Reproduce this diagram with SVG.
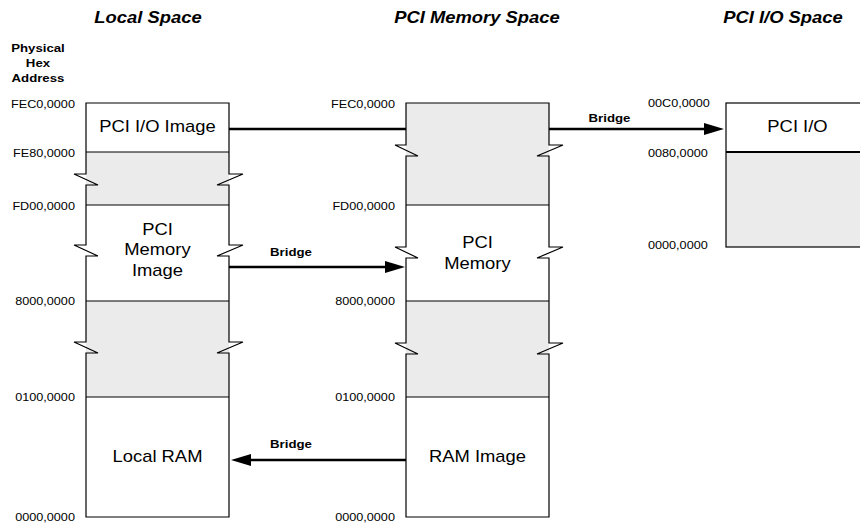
<svg xmlns="http://www.w3.org/2000/svg" width="860" height="527" viewBox="0 0 860 527">
  <style>
    text { font-family: "Liberation Sans", Arial, sans-serif; fill: #000; transform-box: fill-box; }
    .mid { text-anchor: middle; transform-origin: center; transform: scale(1.15, 1); }
    .end { text-anchor: end; transform-origin: right; transform: scale(1.15, 1); }
    .start { text-anchor: start; transform-origin: left; transform: scale(1.15, 1); }
    .head { font-size: 16px; font-weight: bold; font-style: italic; }
    .addr { font-size: 11px; }
    .ph { font-size: 11.5px; font-weight: bold; }
    .lbl { font-size: 16px; }
    .br { font-size: 11.5px; font-weight: bold; }
    .gray { fill: #ebebeb; stroke: none; }
    .edge { fill: none; stroke: #000; stroke-width: 1.2; stroke-linejoin: miter; }
    .div { stroke: #000; stroke-width: 1.2; }
    .conn { stroke: #000; stroke-width: 2.5; fill: none; }
  </style>
  <defs>
    <marker id="arrow" markerUnits="userSpaceOnUse" markerWidth="20" markerHeight="12" refX="12" refY="6" orient="auto">
      <path d="M0,0 L20,6 L0,12 Z" fill="#000"/>
    </marker>
  </defs>

  <rect width="860" height="527" fill="#fff"/>

  <!-- column headings -->
  <text class="head mid" x="148" y="23">Local Space</text>
  <text class="head mid" x="477" y="23">PCI Memory Space</text>
  <text class="head mid" x="783" y="23">PCI I/O Space</text>

  <text class="ph mid" x="38" y="52">Physical</text>
  <text class="ph mid" x="38" y="67">Hex</text>
  <text class="ph mid" x="38" y="82">Address</text>

  <!-- Local space column -->
  <g id="local-space">
    <rect class="gray" x="86" y="152" width="143" height="53"/>
    <rect class="gray" x="86" y="301" width="143" height="96"/>
    <path class="edge" d="M86,103 H229
      V174 H243 L217,185 H229
      V245 H243 L217,256 H229
      V342 H243 L217,353 H229
      V517 H86
      V353 H98 L74,342 H86
      V256 H98 L74,245 H86
      V185 H98 L74,174 H86 Z"/>
    <line class="div" x1="86" y1="152" x2="229" y2="152"/>
    <line class="div" x1="86" y1="205" x2="229" y2="205"/>
    <line class="div" x1="86" y1="301" x2="229" y2="301"/>
    <line class="div" x1="86" y1="397" x2="229" y2="397"/>
    <text class="lbl mid" x="157.5" y="132">PCI I/O Image</text>
    <text class="lbl mid" x="157.5" y="235">PCI</text>
    <text class="lbl mid" x="157.5" y="255">Memory</text>
    <text class="lbl mid" x="157.5" y="276">Image</text>
    <text class="lbl mid" x="157.5" y="462">Local RAM</text>
    <text class="addr end" x="75" y="108">FEC0,0000</text>
    <text class="addr end" x="75" y="157">FE80,0000</text>
    <text class="addr end" x="75" y="210">FD00,0000</text>
    <text class="addr end" x="75" y="305">8000,0000</text>
    <text class="addr end" x="75" y="401">0100,0000</text>
    <text class="addr end" x="75" y="521">0000,0000</text>
  </g>

  <!-- PCI memory space column -->
  <g id="pci-memory-space">
    <rect class="gray" x="406" y="103" width="143" height="102"/>
    <rect class="gray" x="406" y="301" width="143" height="96"/>
    <path class="edge" d="M406,103 H549
      V145 H563 L537,156 H549
      V247 H563 L537,258 H549
      V343 H563 L537,354 H549
      V517 H406
      V354 H418 L395,343 H406
      V258 H418 L395,247 H406
      V156 H418 L395,145 H406 Z"/>
    <line class="div" x1="406" y1="205" x2="549" y2="205"/>
    <line class="div" x1="406" y1="301" x2="549" y2="301"/>
    <line class="div" x1="406" y1="397" x2="549" y2="397"/>
    <text class="lbl mid" x="477.5" y="248">PCI</text>
    <text class="lbl mid" x="477.5" y="269">Memory</text>
    <text class="lbl mid" x="477.5" y="462">RAM Image</text>
    <text class="addr end" x="395" y="108">FEC0,0000</text>
    <text class="addr end" x="395" y="210">FD00,0000</text>
    <text class="addr end" x="395" y="305">8000,0000</text>
    <text class="addr end" x="395" y="401">0100,0000</text>
    <text class="addr end" x="395" y="521">0000,0000</text>
  </g>

  <!-- PCI I/O space column -->
  <g id="pci-io-space">
    <rect class="gray" x="726" y="152" width="143" height="95"/>
    <rect class="edge" x="726" y="103" width="143" height="144"/>
    <line stroke="#000" stroke-width="2" x1="726" y1="152" x2="869" y2="152"/>
    <text class="lbl mid" x="797.5" y="132">PCI I/O</text>
    <text class="addr start" x="648" y="107">00C0,0000</text>
    <text class="addr start" x="648" y="157">0080,0000</text>
    <text class="addr start" x="648" y="249">0000,0000</text>
  </g>

  <!-- bridge connectors -->
  <g id="connectors">
    <line class="conn" x1="229" y1="129" x2="406" y2="129"/>
    <line class="conn" x1="549" y1="129" x2="716" y2="129" marker-end="url(#arrow)"/>
    <line class="conn" x1="229" y1="267" x2="397" y2="267" marker-end="url(#arrow)"/>
    <line class="conn" x1="406" y1="460" x2="239" y2="460" marker-end="url(#arrow)"/>
    <text class="br mid" x="609.5" y="122">Bridge</text>
    <text class="br mid" x="291" y="256">Bridge</text>
    <text class="br mid" x="291" y="448">Bridge</text>
  </g>
</svg>
